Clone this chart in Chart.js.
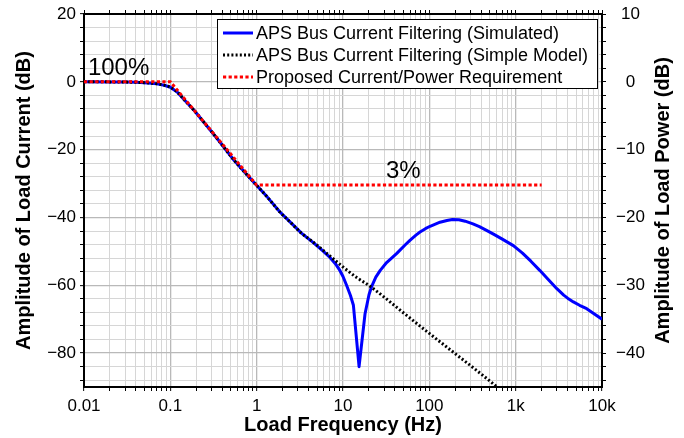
<!DOCTYPE html>
<html><head><meta charset="utf-8">
<script src="https://cdn.jsdelivr.net/npm/chart.js@4.4.1/dist/chart.umd.min.js"></script>
<style>html,body{margin:0;padding:0;background:#fff;} #wrap{width:684px;height:438px;}</style>
</head><body><div id="wrap"><canvas id="c" width="684" height="438"></canvas></div>
<script>
const FONT = '"Liberation Sans", Arial, Helvetica, sans-serif';

// ---- data ----
const simFreq = [0.01,0.02,0.03,0.04,0.05,0.06,0.07,0.085,0.1,0.12,0.144,0.188,0.25,0.35,0.55,0.85,1.33,1.86,2.5,3.3,4.53,5.8,7.06,8.2,9.23,10,11,12.2,13.2,15.35,18,20,21.5,24,27,32,42,52,60,70,78,90,102,133,160,185,220,260,320,380,460,560,700,940,1200,1500,1900,2400,3000,3600,4000,4660,5500,6650,8000,10000];
const simDb   = [0,-0.02,-0.08,-0.15,-0.25,-0.4,-0.6,-1.0,-1.6,-3.0,-5.2,-8.4,-12.2,-16.8,-23.2,-28.6,-34.0,-38.4,-41.6,-44.6,-47.4,-49.8,-51.8,-53.7,-55.7,-57.4,-60.0,-63.0,-65.9,-84.0,-68.4,-62.8,-60.3,-57.6,-55.6,-53.3,-50.6,-48.2,-46.7,-45.2,-44.3,-43.3,-42.6,-41.4,-40.9,-40.6,-40.7,-41.1,-41.9,-42.7,-43.8,-45.0,-46.4,-48.3,-50.5,-52.9,-55.6,-58.4,-61.0,-62.9,-63.8,-64.9,-65.9,-66.9,-68.3,-70.0];

const modelFreq = [0.01,0.02,0.03,0.04,0.05,0.06,0.07,0.085,0.1,0.12,0.144,0.188,0.25,0.35,0.55,0.85,1.33,1.86,2.5,3.3,4.53,7,10,14,20.6,30,54.7,100,200,400,610];
const modelDb   = [0,-0.02,-0.08,-0.15,-0.25,-0.4,-0.6,-1.0,-1.6,-3.0,-5.2,-8.4,-12.2,-16.8,-23.2,-28.6,-34.0,-38.4,-41.6,-44.6,-47.3,-51.3,-54.6,-57.5,-60.3,-63.5,-68.9,-74.2,-80.2,-86.2,-90.0];

const reqFreq = [0.01, 0.1, 1, 2000];
const reqDb   = [0, 0, -30.46, -30.46];

const seriesLabels = ['APS Bus Current Filtering (Simulated)', 'APS Bus Current Filtering (Simple Model)', 'Proposed Current/Power Requirement'];

const xTickValues = [0.01, 0.1, 1, 10, 100, 1000, 10000];
const xTickLabels = ['0.01', '0.1', '1', '10', '100', '1k', '10k'];
const yLeftLabelled = [-80, -60, -40, -20, 0, 20];
const yRightLabelled = [-40, -30, -20, -10, 0, 10];

const axisTitles = ['Load Frequency (Hz)', 'Amplitude of Load Current (dB)', 'Amplitude of Load Power (dB)'];

const annotText = ['100%', '3%'];
const annotFreq = [0.0111, 31.5];
const annotDb   = [1.9, -28.5];

// ---- helpers ----
const pts = (xs, ys) => xs.map((v, i) => ({x: v, y: ys[i]}));
const minus = s => String(s).replace('-', '\u2212');
function logMinorTicks(scale) {
  const t = [];
  for (let e = -2; e <= 4; e++) {
    for (let m = 1; m <= 9; m++) {
      const v = m * Math.pow(10, e);
      if (v <= 10000 * 1.0001) t.push({value: v});
    }
  }
  scale.ticks = t;
}
function isDecade(v) { const l = Math.log10(v); return Math.abs(l - Math.round(l)) < 1e-6; }
function xLabel(v) {
  const i = xTickValues.findIndex(t => Math.abs(t - v) / t < 1e-6);
  return i >= 0 ? xTickLabels[i] : '';
}
const MAJOR = '#b9b9b9', MINOR = '#d6d6d6';

const styles = [
  {color: '#0000ff', width: 3, dash: []},
  {color: '#000000', width: 3, dash: [2, 2.2]},
  {color: '#ff0000', width: 3, dash: [3.2, 2.4]}
];

const decor = {
  id: 'decor',
  afterDatasetsDraw(chart) {
    const {ctx, scales: {x, y}, chartArea: ca} = chart;
    ctx.save();
    ctx.fillStyle = '#000';
    ctx.font = '24px ' + FONT;
    ctx.textAlign = 'left';
    ctx.textBaseline = 'alphabetic';
    annotText.forEach((t, i) => ctx.fillText(t, x.getPixelForValue(annotFreq[i]), y.getPixelForValue(annotDb[i])));

    const bx = 217.5, by = 19.5, bw = 380, bh = 69;
    ctx.fillStyle = '#fff';
    ctx.fillRect(bx, by, bw, bh);
    ctx.strokeStyle = '#000';
    ctx.lineWidth = 1;
    ctx.setLineDash([]);
    ctx.strokeRect(bx, by, bw, bh);
    ctx.font = '18px ' + FONT;
    ctx.textBaseline = 'middle';
    ctx.fillStyle = '#000';
    seriesLabels.forEach((lab, i) => {
      const ry = 33 + i * 22;
      const st = styles[i];
      ctx.beginPath();
      ctx.strokeStyle = st.color;
      ctx.lineWidth = st.width;
      ctx.lineCap = 'butt';
      ctx.setLineDash(st.dash);
      ctx.moveTo(223, ry);
      ctx.lineTo(253, ry);
      ctx.stroke();
      ctx.setLineDash([]);
      ctx.fillText(lab, 256, ry + 1);
    });

    ctx.translate(663, (ca.top + ca.bottom) / 2);
    ctx.rotate(-Math.PI / 2);
    ctx.font = 'bold 20px ' + FONT;
    ctx.textAlign = 'center';
    ctx.textBaseline = 'middle';
    ctx.fillText(axisTitles[2], 0, 0);
    ctx.restore();
  }
};

const tickFont = {family: FONT, size: 17};
const noPad = s => { s.paddingTop = 0; s.paddingBottom = 0; };

new Chart(document.getElementById('c'), {
  type: 'line',
  data: {
    datasets: [
      {label: seriesLabels[0], data: pts(simFreq, simDb), borderColor: styles[0].color, borderWidth: styles[0].width, borderDash: styles[0].dash, borderJoinStyle: 'round', pointRadius: 0, tension: 0, order: 3, xAxisID: 'x', yAxisID: 'y'},
      {label: seriesLabels[1], data: pts(modelFreq, modelDb), borderColor: styles[1].color, borderWidth: styles[1].width, borderDash: styles[1].dash, borderCapStyle: 'butt', pointRadius: 0, cubicInterpolationMode: 'monotone', order: 2, xAxisID: 'x', yAxisID: 'y'},
      {label: seriesLabels[2], data: pts(reqFreq, reqDb), borderColor: styles[2].color, borderWidth: styles[2].width, borderDash: styles[2].dash, borderCapStyle: 'butt', pointRadius: 0, tension: 0, order: 1, xAxisID: 'x', yAxisID: 'y'}
    ]
  },
  options: {
    responsive: false,
    devicePixelRatio: 1,
    animation: false,
    layout: {padding: 0},
    plugins: {legend: {display: false}, tooltip: {enabled: false}},
    scales: {
      x: {
        type: 'logarithmic', position: 'bottom', min: 0.01, max: 10000,
        afterBuildTicks: logMinorTicks,
        afterFit: s => { s.height = 51; },
        ticks: {autoSkip: false, maxRotation: 0, color: '#000', font: tickFont, padding: 5, callback: v => xLabel(v)},
        grid: {color: c => isDecade(c.tick.value) ? MAJOR : MINOR, lineWidth: c => isDecade(c.tick.value) ? 1.3 : 1, tickColor: '#000', tickLength: 4, tickWidth: 1},
        border: {display: true, color: '#000', width: 2},
        title: {display: true, text: axisTitles[0], color: '#000', font: {family: FONT, size: 20, weight: 'bold'}, padding: {top: 0, bottom: 1}}
      },
      x2: {
        type: 'logarithmic', position: 'top', min: 0.01, max: 10000,
        afterBuildTicks: logMinorTicks,
        afterFit: s => { s.height = 14; },
        ticks: {autoSkip: false, maxRotation: 0, callback: () => '', font: {size: 1}, padding: 0},
        grid: {drawOnChartArea: false, tickColor: '#000', tickLength: 4, tickWidth: 1},
        border: {display: true, color: '#000', width: 2}
      },
      y: {
        type: 'linear', position: 'left', min: -90, max: 20,
        afterBuildTicks: s => { const t = []; for (let v = -88; v <= 20; v += 4) t.push({value: v}); s.ticks = t; },
        afterFit: s => { s.width = 84; noPad(s); },
        ticks: {autoSkip: false, color: '#000', font: tickFont, padding: 4, callback: v => yLeftLabelled.includes(v) ? minus(v) : ''},
        grid: {color: c => (c.tick.value % 20 === 0) ? MAJOR : MINOR, lineWidth: c => (c.tick.value % 20 === 0) ? 1.3 : 1, tickColor: '#000', tickLength: 4, tickWidth: 1},
        border: {display: true, color: '#000', width: 2},
        title: {display: true, text: axisTitles[1], color: '#000', font: {family: FONT, size: 20, weight: 'bold'}, padding: {top: 12, bottom: 0}}
      },
      y2: {
        type: 'linear', position: 'right', min: -45, max: 10,
        afterBuildTicks: s => { const t = []; for (let v = -44; v <= 10; v += 2) t.push({value: v}); s.ticks = t; },
        afterFit: s => { s.width = 82; noPad(s); },
        ticks: {autoSkip: false, color: '#000', font: tickFont, padding: 10, crossAlign: 'center', callback: v => yRightLabelled.includes(v) ? minus(v) : ''},
        grid: {drawOnChartArea: false, tickColor: '#000', tickLength: 4, tickWidth: 1},
        border: {display: true, color: '#000', width: 2}
      }
    }
  },
  plugins: [decor]
});
</script>
</body></html>
